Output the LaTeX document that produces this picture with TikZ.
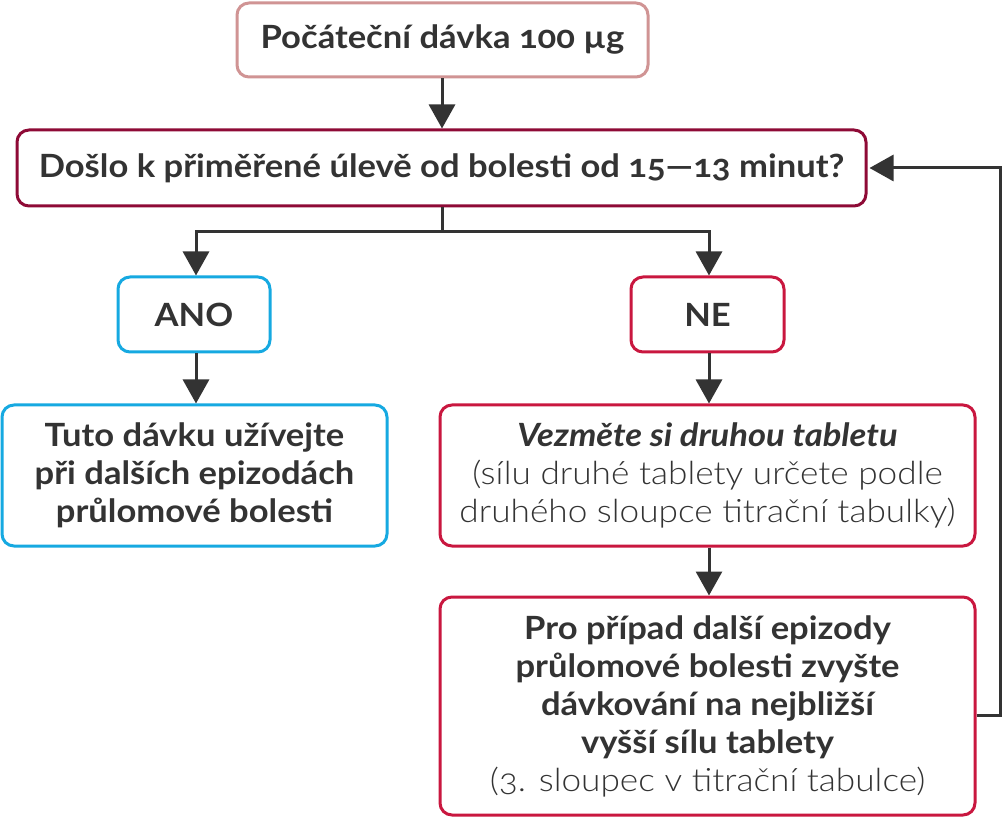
\documentclass[tikz,border=0pt]{standalone}
\usepackage{fontspec}
\setmainfont{Lato}[Numbers=OldStyle, FakeStretch=1.08]
\newfontfamily\lightfont{Lato Light}[Numbers=OldStyle, FakeStretch=1.10]
\usetikzlibrary{arrows.meta}
\definecolor{rose}{HTML}{D09494}
\definecolor{maroon}{HTML}{8E0A36}
\definecolor{cyanb}{HTML}{16A9E1}
\definecolor{crim}{HTML}{C9173F}
\definecolor{ink}{HTML}{333333}
\begin{document}
\begin{tikzpicture}[x=1pt,y=-1pt,
  box/.style={draw, line width=3pt, rounded corners=12pt, fill=white, align=center,
    text=ink, inner sep=0pt, font=\fontsize{32}{38}\selectfont\bfseries},
  conn/.style={draw=ink, line width=3pt},
  arr/.style={conn, -{Triangle[length=24pt,width=26pt]}}]
\useasboundingbox (0,0) rectangle (1002,818);
\node[box, draw=rose, minimum width=411pt, minimum height=74pt] (start) at (442.5,40) {Počáteční dávka 100 µg};
\node[box, draw=maroon, minimum width=849pt, minimum height=76pt] (q) at (441.5,168) {Došlo k přiměřené úlevě od bolesti od 15—13 minut?};
\node[box, draw=cyanb, minimum width=152pt, minimum height=75pt] (ano) at (194,314.5) {ANO};
\node[box, draw=crim, minimum width=153pt, minimum height=75pt] (ne) at (707.5,314.5) {NE};
\node[box, draw=cyanb, minimum width=385pt, minimum height=141pt] (tuto) at (194.5,475.5) {Tuto dávku užívejte\\při dalších epizodách\\průlomové bolesti};
\node[box, draw=crim, minimum width=535pt, minimum height=141pt] (vez) at (707.5,475.5) {\itshape Vezměte si druhou tabletu\\{\lightfont\mdseries\upshape (sílu druhé tablety určete podle}\\{\lightfont\mdseries\upshape druhého sloupce titrační tabulky)}};
\node[box, draw=crim, minimum width=535pt, minimum height=218pt] (pro) at (707.5,706) {Pro případ další epizody\\průlomové bolesti zvyšte\\dávkování na nejbližší\\vyšší sílu tablety\\{\lightfont\mdseries (3. sloupec v titrační tabulce)}};
\coordinate (split) at (442,232);
\draw[arr] (start.south -| split) -- (q.north -| split);
\draw[conn] (q.south -| split) -- (split);
\draw[arr] (split) -| ([xshift=2pt]ano.north);
\draw[arr] (split) -| ([xshift=1.5pt]ne.north);
\draw[arr] ([xshift=2pt]ano.south) -- ([xshift=2pt]ano.south |- tuto.north);
\draw[arr] ([xshift=1.5pt]ne.south) -- ([xshift=1.5pt]ne.south |- vez.north);
\draw[arr] ([xshift=1.5pt]vez.south) -- ([xshift=1.5pt]vez.south |- pro.north);
\coordinate (loop) at (1000,715);
\draw[arr] (pro.east |- loop) -- (loop) |- ([xshift=2pt]q.east);
\end{tikzpicture}
\end{document}
